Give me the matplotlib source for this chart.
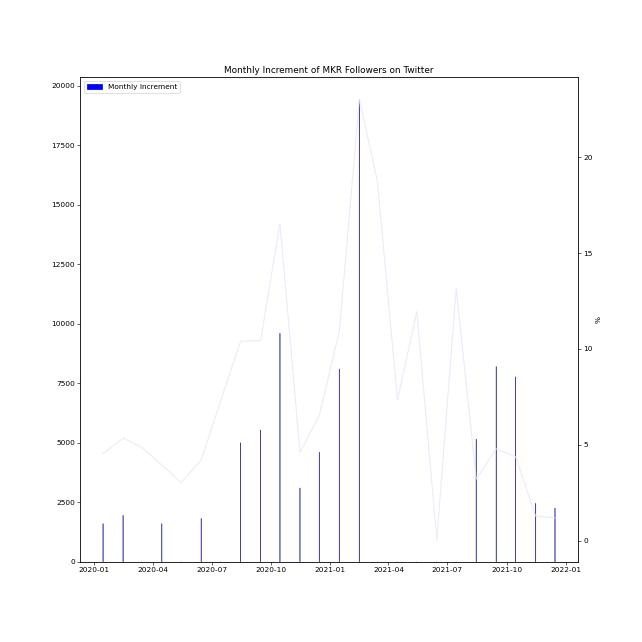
import pandas as pd
import matplotlib
matplotlib.use("Agg")
import matplotlib.pyplot as plt
from matplotlib.patches import Patch

# monthly data, Jan 2020 - Dec 2021 (mid-month)
months = pd.date_range("2020-01-01", periods=24, freq="MS") + pd.Timedelta(days=14)

increment = [1600, 1950, 0, 1600, 0, 1820, 0, 5000, 5530, 9600, 3100, 4600,
             8100, 19400, 0, 0, 0, 0, 0, 5150, 8200, 7770, 2450, 2250]

pct_change = [4.55, 5.35, 4.87, 3.95, 3.03, 4.21, 7.28, 10.40, 10.44, 16.54, 4.61, 6.54,
              10.93, 23.03, 18.74, 7.33, 11.95, 0.05, 13.16, 3.21, 4.79, 4.38, 1.28, 1.19]

fig, ax = plt.subplots(figsize=(12, 12), dpi=53.5)
fig.subplots_adjust(left=0.125, right=0.9, top=0.88, bottom=0.125)

ax.bar(months, increment, width=0.6, color="blue", edgecolor="#3a3a8c",
       linewidth=0.6, snap=False)
ax.legend(handles=[Patch(color="blue", label="Monthly Increment")], loc="upper left")
ax.set_title("Monthly Increment of MKR Followers on Twitter")

ax2 = ax.twinx()
ax2.plot(months, pct_change, color="lavender", alpha=0.8)
ax2.set_ylabel("%")

fig.savefig("out.png", dpi=53.5)
